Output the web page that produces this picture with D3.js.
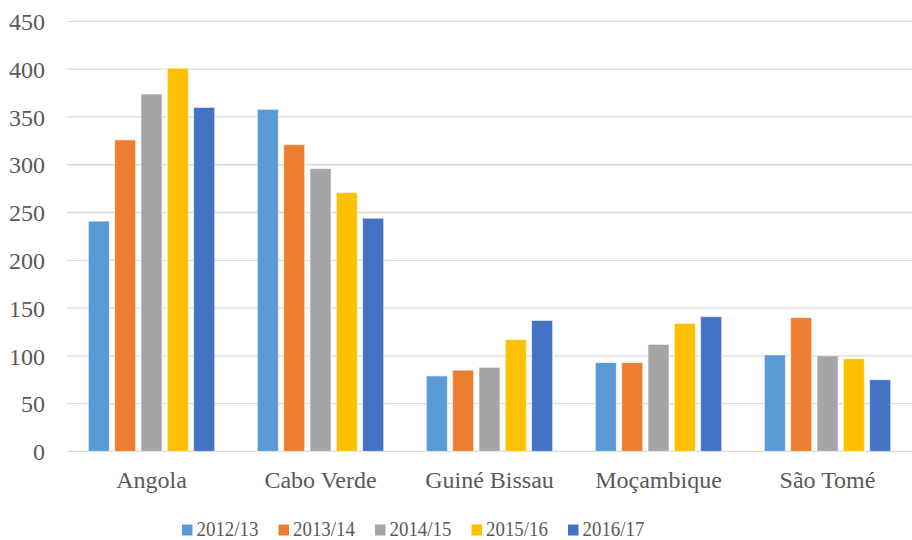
<!DOCTYPE html>
<html><head><meta charset="utf-8">
<script src="https://cdn.jsdelivr.net/npm/d3@7"></script>
<style>body{margin:0;background:#fff}svg{display:block}</style>
</head><body><svg id="c" width="912" height="540"></svg>
<script>
const categories = ["Angola","Cabo Verde","Guiné Bissau","Moçambique","São Tomé"];
const seriesNames = ["2012/13","2013/14","2014/15","2015/16","2016/17"];
const s2012 = [241,358,79,93,101];
const s2013 = [326,321,85,93,140];
const s2014 = [374,296,88,112,100];
const s2015 = [401,271,117,134,97];
const s2016 = [360,244,137,141,75];
const yTicks = [0,50,100,150,200,250,300,350,400,450];
const colors = ["#5B9BD5","#ED7D31","#A5A5A5","#FFC000","#4472C4"];
const seriesValues = [s2012,s2013,s2014,s2015,s2016];

const FONT = "Liberation Serif";
const TXT = "#595959";
const svg = d3.select("#c");
const pLeft = 67, pRight = 912, pTop = 21.4, pBottom = 451.4;
const x = d3.scaleBand().domain(categories).range([pLeft,pRight]).paddingInner(0).paddingOuter(0);
const y = d3.scaleLinear().domain([0,450]).range([pBottom,pTop]);
const x1 = d3.scaleBand().domain(seriesNames).range([0,x.bandwidth()]).paddingInner(0.2).paddingOuter(0.81);

// gridlines
svg.append("g").selectAll("line").data(yTicks).join("line")
  .attr("x1",pLeft).attr("x2",pRight).attr("y1",d=>y(d)).attr("y2",d=>y(d))
  .attr("stroke","#d9d9d9").attr("stroke-width",1.3);

// y labels
const yAxis = d3.axisLeft(y).tickValues(yTicks).tickSize(0).tickPadding(0);
const ga = svg.append("g").attr("transform",`translate(45,0)`).call(yAxis);
ga.attr("font-family",FONT).attr("font-size",24);
ga.select(".domain").remove();
ga.selectAll("text").attr("font-family",FONT).attr("font-size",24).attr("fill",TXT).attr("dy","0.34em");

// bars
categories.forEach((c,ci)=>{
  seriesNames.forEach((s,si)=>{
    const v = seriesValues[si][ci];
    svg.append("rect").attr("x",x(c)+x1(s)).attr("width",x1.bandwidth())
      .attr("y",y(v)).attr("height",y(0)-y(v)).attr("fill",colors[si])
      .attr("stroke","#fff").attr("stroke-opacity",0.6).attr("stroke-width",1);
  });
});

// x labels
const xAxis = d3.axisBottom(x).tickSize(0).tickPadding(0);
const gx = svg.append("g").attr("transform",`translate(0,${pBottom})`).call(xAxis);
gx.attr("font-family",FONT).attr("font-size",24);
gx.select(".domain").remove();
gx.selectAll("text").attr("font-family",FONT).attr("font-size",24).attr("fill",TXT).attr("y",37).attr("dy",0);

// legend
const lg = svg.append("g").attr("font-family",FONT);
const lx = d3.scalePoint().domain(seriesNames).range([182,568]);
seriesNames.forEach((s,i)=>{
  lg.append("rect").attr("x",lx(s)).attr("y",524.5).attr("width",10.5).attr("height",11).attr("fill",colors[i]);
  lg.append("text").attr("x",lx(s)+14.5).attr("y",535.5)
    .attr("font-family",FONT).attr("font-size",20).attr("fill",TXT)
    .attr("textLength",62).attr("lengthAdjust","spacingAndGlyphs").text(s);
});
</script></body></html>
